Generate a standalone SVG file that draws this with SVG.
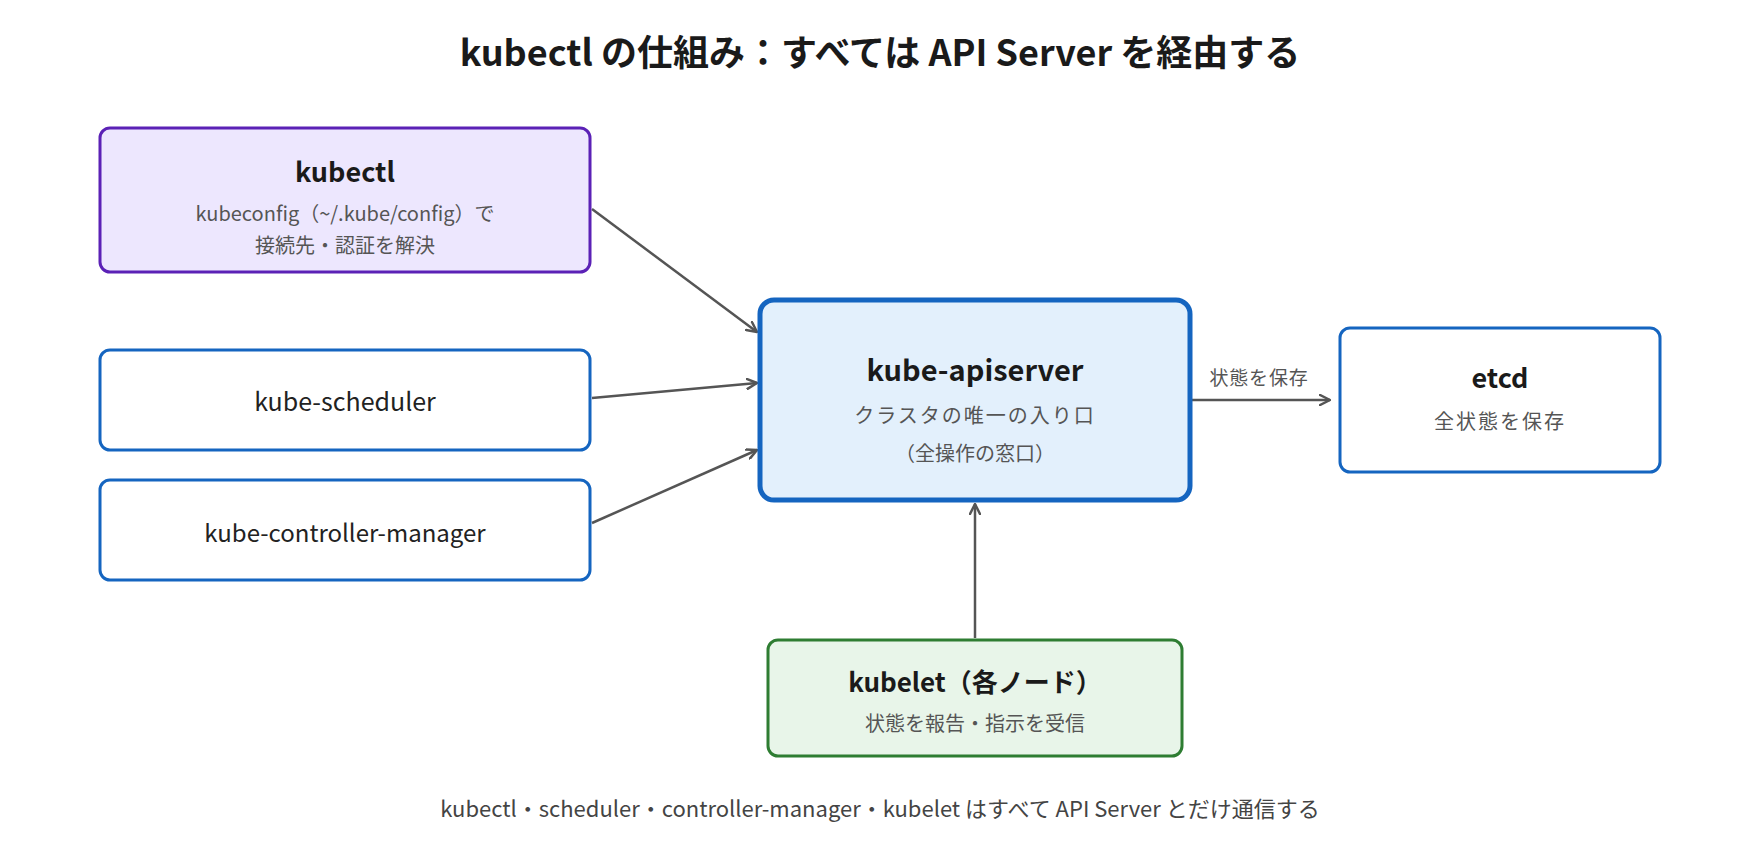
<svg xmlns="http://www.w3.org/2000/svg" width="1760" height="860" viewBox="0 0 1760 860">
<style>
text{font-family:"Noto Sans CJK JP","Noto Sans",sans-serif;text-anchor:middle;dominant-baseline:central}
.title{font-size:36px;font-weight:700;fill:#1a1a1a}
.nt{font-size:27px;font-weight:700;fill:#1a1a1a}
.nl{font-size:24px;fill:#222}
.sub{font-size:20px;fill:#555}
.sp{letter-spacing:2px}
.el{font-size:19px;fill:#555;letter-spacing:0.8px}
.foot{font-size:22px;fill:#444}
.edge{stroke:#555;stroke-width:2.5;fill:none;marker-end:url(#arr)}
</style>
<defs>
<marker id="arr" viewBox="0 0 12 12" refX="11" refY="6" markerWidth="12" markerHeight="12" markerUnits="userSpaceOnUse" orient="auto">
<path d="M1,1 L11,6 L1,11" fill="none" stroke="#555" stroke-width="2.5" stroke-linecap="round" stroke-linejoin="round"/>
</marker>
</defs>
<rect width="1760" height="860" fill="#fff"/>
<text class="title" x="880" y="50">kubectl の仕組み：すべては API Server を経由する</text>
<g id="connectors">
<line class="edge" x1="592" y1="209" x2="757" y2="332"/>
<line class="edge" x1="592" y1="398" x2="757" y2="383"/>
<line class="edge" x1="592" y1="523" x2="757" y2="450"/>
<line class="edge" x1="1192" y1="400" x2="1330" y2="400"/>
<text class="el" x="1259" y="376">状態を保存</text>
<line class="edge" x1="975" y1="638" x2="975" y2="504"/>
</g>
<g id="kubectl">
<rect x="100" y="128" width="490" height="144" rx="10" fill="#EDE7FE" stroke="#5B21B6" stroke-width="3"/>
<text class="nt" x="345" y="170">kubectl</text>
<text class="sub" x="345" y="212">kubeconfig（~/.kube/config）で</text>
<text class="sub" x="345" y="244">接続先・認証を解決</text>
</g>
<g id="kube-scheduler">
<rect x="100" y="350" width="490" height="100" rx="10" fill="#fff" stroke="#1565C0" stroke-width="3"/>
<text class="nl" x="345" y="400" style="font-size:25px">kube-scheduler</text>
</g>
<g id="kube-controller-manager">
<rect x="100" y="480" width="490" height="100" rx="10" fill="#fff" stroke="#1565C0" stroke-width="3"/>
<text class="nl" x="345" y="531">kube-controller-manager</text>
</g>
<g id="kube-apiserver">
<rect x="760" y="300" width="430" height="200" rx="14" fill="#E3F0FC" stroke="#1565C0" stroke-width="5"/>
<text class="nt" x="975" y="368" style="font-size:29px">kube-apiserver</text>
<text class="sub sp" x="975" y="414">クラスタの唯一の入り口</text>
<text class="sub" x="975" y="452">（全操作の窓口）</text>
</g>
<g id="etcd">
<rect x="1340" y="328" width="320" height="144" rx="10" fill="#fff" stroke="#1565C0" stroke-width="3"/>
<text class="nt" x="1500" y="376">etcd</text>
<text class="sub sp" x="1500" y="420">全状態を保存</text>
</g>
<g id="kubelet">
<rect x="768" y="640" width="414" height="116" rx="10" fill="#E8F5E9" stroke="#2E7D32" stroke-width="3"/>
<text class="nt" x="975" y="680" style="font-size:26px">kubelet（各ノード）</text>
<text class="sub" x="975" y="722">状態を報告・指示を受信</text>
</g>
<text class="foot" x="880" y="807">kubectl・scheduler・controller-manager・kubelet はすべて API Server とだけ通信する</text>
</svg>
